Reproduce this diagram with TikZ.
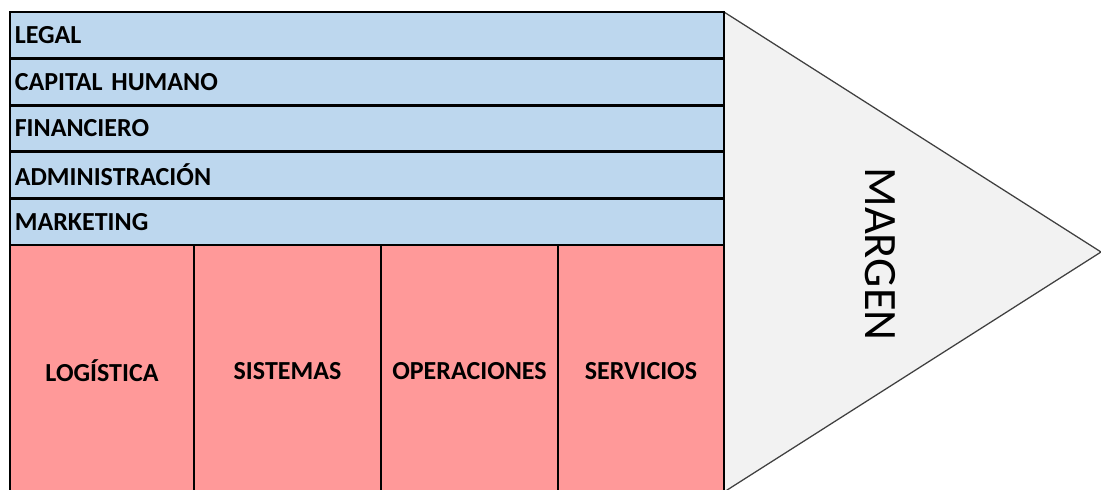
\documentclass[tikz,border=0pt]{standalone}
\usepackage{fontspec}
\setmainfont{Carlito}
\definecolor{azul}{HTML}{BDD7EE}
\definecolor{rosa}{HTML}{FF9999}
\definecolor{gris}{HTML}{F2F2F2}
\tikzset{
  apoyo/.style={draw=black, line width=2pt, fill=azul, anchor=north west, inner sep=0pt, inner xsep=0.12cm, outer sep=0pt,
    minimum width=17.85cm, minimum height=1.165cm, text width=17.61cm, align=left, font=\fontsize{18.5}{21}\selectfont\bfseries},
  primaria/.style={draw=black, line width=2pt, fill=rosa, anchor=north west, inner sep=0pt, outer sep=0pt,
    minimum height=6.3cm, font=\fontsize{18.5}{21}\selectfont\bfseries}
}
\begin{document}
\begin{tikzpicture}
            \useasboundingbox (0,0) rectangle (27.525,-12.25);
            \fill[gris, draw=black!75, line width=0.9pt] (18.1,-0.3) -- (27.525,-6.3) -- (18.1,-12.3) -- cycle;
            \node[rotate=-90, font=\fontsize{33}{38}\selectfont] (margen) at (22.0,-6.35) {MARGEN};
            \node[apoyo] (legal) at (0.25,-0.3) {LEGAL};
            \node[apoyo] (capital) at (0.25,-1.465) {CAPITAL HUMANO};
            \node[apoyo] (financiero) at (0.25,-2.63) {FINANCIERO};
            \node[apoyo] (admin) at (0.25,-3.795) {ADMINISTRACIÓN};
            \node[apoyo] (marketing) at (0.25,-4.96) {MARKETING};
            \node[primaria, minimum width=4.6cm] (logistica) at (0.25,-6.125) {LOGÍSTICA};
            \node[primaria, minimum width=4.675cm] (sistemas) at (4.85,-6.125) {SISTEMAS};
            \node[primaria, minimum width=4.425cm] (operaciones) at (9.525,-6.125) {OPERACIONES};
            \node[primaria, minimum width=4.15cm] (servicios) at (13.95,-6.125) {SERVICIOS};
        \end{tikzpicture}
\end{document}
